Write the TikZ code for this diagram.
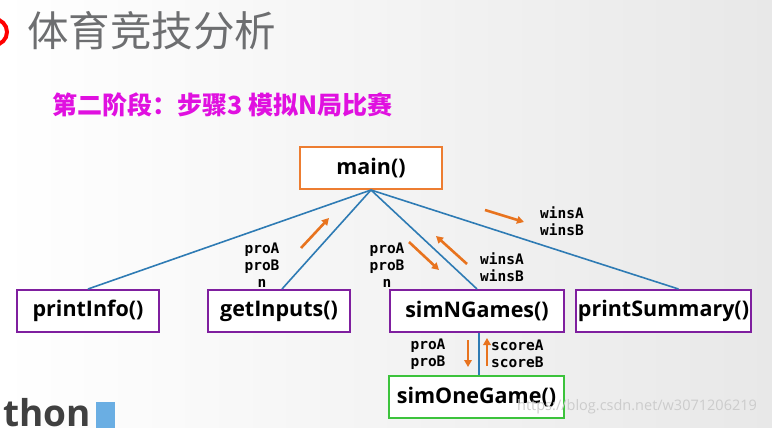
\documentclass[tikz,border=0pt]{standalone}
\usepackage{fontspec}
\setmainfont{Open Sans}
\newfontfamily\cjkfont{Noto Sans CJK SC}
\newfontfamily\codefont{DejaVu Sans Mono}
\usetikzlibrary{arrows.meta,positioning,calc}

\definecolor{titlegray}{HTML}{6D6E70}
\definecolor{stagepink}{HTML}{E010E0}
\definecolor{mainorange}{HTML}{ED7D31}
\definecolor{funcpurple}{HTML}{7F1F9F}
\definecolor{gamegreen}{HTML}{3CC33C}
\definecolor{linkblue}{HTML}{2E7BB4}
\definecolor{flowarrow}{HTML}{E8731E}

\begin{document}
\begin{tikzpicture}[x=1pt,y=-1pt,
      fbox/.style={draw,line width=2pt,fill=white,minimum height=42pt,inner sep=0pt,
        font=\bfseries\fontsize{21.5}{24}\selectfont},
      link/.style={linkblue,line width=1.6pt},
      flow/.style={flowarrow,line width=2.6pt,-{Triangle[length=7pt,width=7.5pt]}},
      lbl/.style={font=\codefont\bfseries\fontsize{14.5}{17}\selectfont,align=center,inner sep=0pt}
    ]
      % page
      \useasboundingbox (0,0) rectangle (772,428);
      \shade[left color=white,right color=black!9] (0,0) rectangle (772,428);
      \begin{scope}
        \clip (0,0) rectangle (772,428);
        \draw[red,line width=4pt] (-6,32) circle (13);
        % logo
        \fill[cyan!70!blue!60] (96,402) rectangle (115,428);
      \end{scope}
      \node[anchor=base west,font=\bfseries\fontsize{37}{37}\selectfont,black!75,inner sep=0pt] (logo) at (3,426) {thon};

      % titles
      \node[anchor=west,font=\cjkfont\fontsize{41.5}{44}\selectfont,titlegray,inner sep=0pt] (title) at (27,31) {体育竞技分析};
      \node[anchor=west,font=\cjkfont\bfseries\fontsize{25}{28}\selectfont,stagepink,inner sep=0pt] (stage) at (52,105) {第二阶段：步骤3 模拟N局比赛};

      % functions
      \node[fbox,draw=mainorange,minimum width=142pt] (main) at (371,168) {main()};
      \node[fbox,draw=funcpurple,minimum width=142pt] (info) at (88,311) {printInfo()};
      \node[fbox,draw=funcpurple,minimum width=142pt] (inputs) at (279,311) {getInputs()};
      \node[fbox,draw=funcpurple,minimum width=174pt] (ngames) at (477,311) {simNGames()};
      \node[fbox,draw=funcpurple,minimum width=175pt] (summary) at (663.5,311) {printSummary()};
      \node[fbox,draw=gamegreen,minimum width=175pt] (onegame) at (476.5,397) {simOneGame()};

      % links
      \draw[link] (main.south) -- (info.north);
      \draw[link] (main.south) -- ([xshift=3pt]inputs.north);
      \draw[link] (main.south) -- (ngames.north);
      \draw[link] (main.south) -- ([xshift=15pt]summary.north);
      \draw[link] ([xshift=2pt]ngames.south) -- ([xshift=2.5pt]onegame.north);

      % data flow
      \coordinate (a1) at (301,248); \coordinate (b1) at (329,218);
      \coordinate (a2) at (409,242); \coordinate (b2) at (439,270);
      \coordinate (a3) at (467,264); \coordinate (b3) at (436,236);
      \coordinate (a4) at (485,210); \coordinate (b4) at (524,222);
      \coordinate (a5) at (468,340); \coordinate (b5) at (468,367);
      \coordinate (a6) at (487,366); \coordinate (b6) at (487,338);
      \draw[flow] (a1) -- (b1);
      \draw[flow] (a2) -- (b2);
      \draw[flow] (a3) -- (b3);
      \draw[flow] (a4) -- (b4);
      \draw[flow] (a5) -- (b5);
      \draw[flow] (a6) -- (b6);

      \node[lbl] (in1) at (262,265) {proA\\proB\\n};
      \node[lbl] (in2) at (387,265) {proA\\proB\\n};
      \node[lbl,align=left] (out1) at (502,267) {winsA\\winsB};
      \node[lbl,align=left] (out2) at (562,221) {winsA\\winsB};
      \node[lbl,align=left] (in3) at (428,354) {proA\\proB};
      \node[lbl,align=left,anchor=west] (out3) at (491,354) {scoreA\\scoreB};

      % watermark
      \node[anchor=west,font=\fontsize{14.5}{15}\selectfont,white!80!black,inner sep=0pt] (mark) at (517,407) {https://blog.csdn.net/w3071206219};
    \end{tikzpicture}
\end{document}
